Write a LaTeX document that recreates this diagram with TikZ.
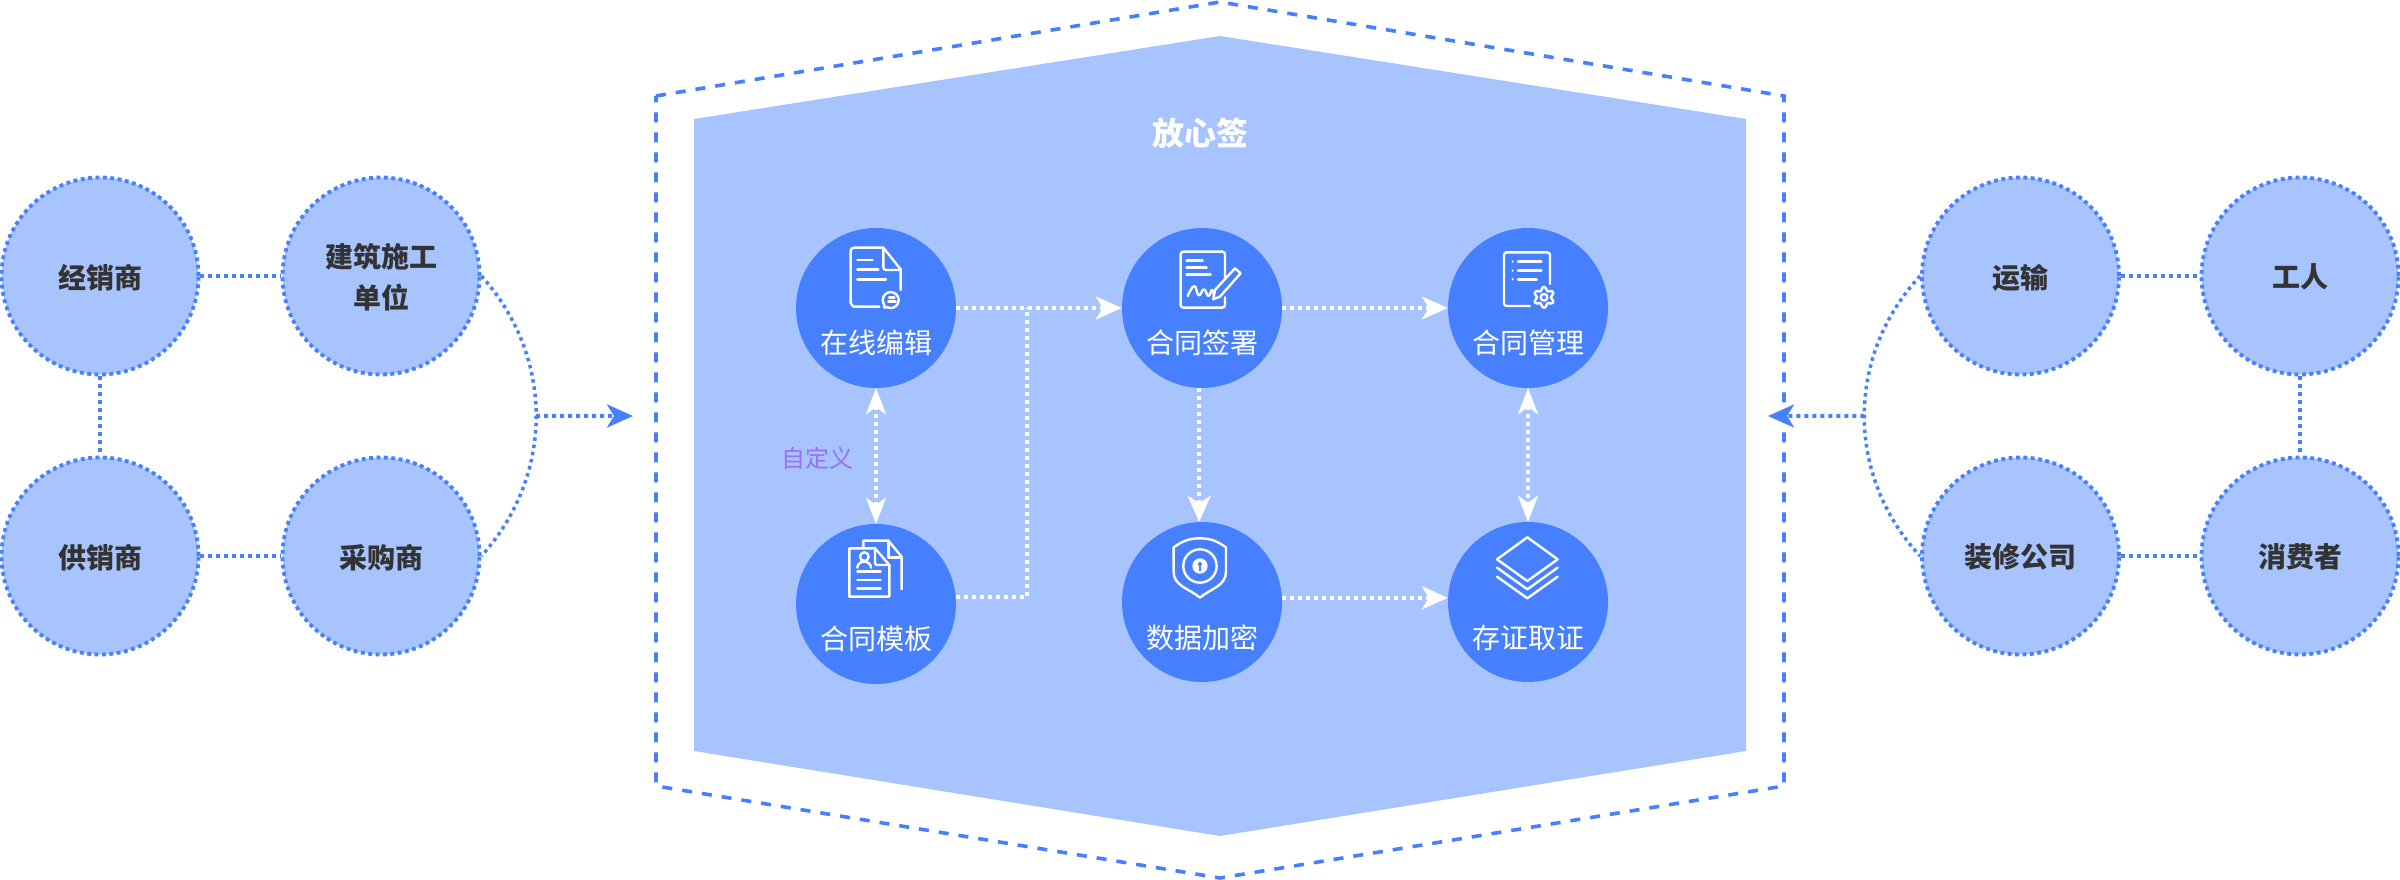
\documentclass[tikz,border=0pt]{standalone}
\usepackage{fontspec}
\setmainfont{Noto Sans CJK SC}
\usetikzlibrary{arrows.meta}
\definecolor{mainblue}{HTML}{4680FF}
\definecolor{lightblue}{HTML}{A8C4FF}
\definecolor{darktext}{HTML}{333333}
\definecolor{purpletext}{HTML}{9A70F5}
\tikzset{
    partner/.style = {circle, fill=lightblue, draw=mainblue, line width=3.8pt, dash pattern=on 3.8pt off 3.6pt, minimum size=197pt, inner sep=0pt, align=center, text depth=0pt, text=darktext, font=\fontsize{28}{41}\selectfont\bfseries},
    feature/.style = {circle, fill=mainblue, minimum size=160pt, inner sep=0pt},
    featuretext/.style = {text=white, inner sep=0pt, text depth=0pt, font=\fontsize{28}{34}\selectfont},
    blueline/.style = {draw=mainblue, line width=4pt, dash pattern=on 4pt off 4pt},
    thinline/.style = {draw=mainblue, line width=3.5pt, dash pattern=on 3.5pt off 3.8pt},
    whiteline/.style = {draw=white, line width=4pt, dash pattern=on 4pt off 4pt},
    bluetip/.style = {-{Stealth[length=26pt, width=23pt, inset=7pt, fill=mainblue]}},
    whitetip/.style = {-{Stealth[length=26pt, width=23pt, inset=7pt, fill=white]}},
    whitetips/.style = {{Stealth[length=26pt, width=20pt, inset=7pt, fill=white]}-{Stealth[length=26pt, width=20pt, inset=7pt, fill=white]}},
    iconline/.style = {draw=white, line width=2.4pt, line cap=round, line join=round}
}
\begin{document}
\begin{tikzpicture}[x=1pt, y=1pt]
    \useasboundingbox (0, 0) rectangle (2400, 880);

    % platform
    \fill[lightblue] (694, 761) -- (1220, 844) -- (1746, 761) -- (1746, 129) -- (1220, 44) -- (694, 129) -- cycle;
    \draw[draw=mainblue, line width=3.6pt, dash pattern=on 10pt off 10pt] (656, 784) -- (1220, 878) -- (1784, 784) -- (1784, 94) -- (1220, 2) -- (656, 94) -- cycle;
    \node (title) at (1200, 747) [text=white, inner sep=0pt, font=\fontsize{32}{38}\selectfont\bfseries] {放心签};

    % left group
    \node (jxs) at (100, 604) [partner] {经销商};
    \node (jzdw) at (381, 604) [partner] {建筑施工\\单位};
    \node (gxs) at (100, 324) [partner] {供销商};
    \node (cgs) at (381, 324) [partner] {采购商};
    \draw[blueline] (jxs) -- (jzdw);
    \draw[blueline] (jxs) -- (gxs);
    \draw[blueline] (gxs) -- (cgs);
    \draw[thinline] (jzdw.east) to [bend left=42] coordinate[midway] (leftmid) (cgs.east);
    \coordinate (lefttip) at (633, 464);
    \draw[blueline, bluetip] (leftmid) -- (lefttip);

    % right group
    \node (ys) at (2020.5, 604) [partner] {运输};
    \node (gr) at (2300, 604) [partner] {工人};
    \node (zxgs) at (2020.5, 324) [partner] {装修公司};
    \node (xfz) at (2300, 324) [partner] {消费者};
    \draw[blueline] (ys) -- (gr);
    \draw[blueline] (gr) -- (xfz);
    \draw[blueline] (zxgs) -- (xfz);
    \draw[thinline] (ys.west) to [bend right=43] coordinate[midway] (rightmid) (zxgs.west);
    \coordinate (righttip) at (1768, 464);
    \draw[blueline, bluetip] (rightmid) -- (righttip);

    % features
    \node (zxbj) at (876, 572) [feature] {};
    \node (htqs) at (1202, 572) [feature] {};
    \node (htgl) at (1528, 572) [feature] {};
    \node (htmb) at (876, 276) [feature] {};
    \node (sjjm) at (1202, 278) [feature] {};
    \node (czqz) at (1528, 278) [feature] {};
    \node (zxbjtext) at ([yshift=-34pt]zxbj.center) [featuretext] {在线编辑};
    \node (htqstext) at ([yshift=-34pt]htqs.center) [featuretext] {合同签署};
    \node (htgltext) at ([yshift=-34pt]htgl.center) [featuretext] {合同管理};
    \node (htmbtext) at ([yshift=-34pt]htmb.center) [featuretext] {合同模板};
    \node (sjjmtext) at ([yshift=-35pt]sjjm.center) [featuretext] {数据加密};
    \node (czqztext) at ([yshift=-35pt]czqz.center) [featuretext] {存证取证};
    \node (zdy) at (817, 422) [text=purpletext, inner sep=0pt, font=\fontsize{24}{28}\selectfont] {自定义};

    % flows
    \coordinate (branch) at (1027, 572);
    \draw[whiteline, whitetip] (zxbj) -- (htqs);
    \draw[whiteline] (htmb.5) -| (branch);
    \draw[whiteline, whitetip] (htqs) -- (htgl);
    \draw[whiteline, whitetip] (htqs.-92) -- (sjjm.92);
    \draw[whiteline, whitetip] (sjjm.3) -- (czqz.177);
    \draw[whiteline, whitetips] (zxbj) -- (htmb);
    \draw[whiteline, whitetips] (htgl) -- (czqz);

    % document with speech bubble
    \begin{scope}[shift={(760, 670)}, x=0.3333pt, y=-0.3333pt, iconline]
        \draw (358, 290) -- (282, 290) to [out=180, in=90] (272, 280) -- (272, 123) to [out=90, in=180] (282, 113) -- (370, 113) -- (422, 178) -- (422, 240);
        \draw (370, 113) -- (370, 172) to [out=-90, in=180] (378, 180) -- (422, 180);
        \draw (292, 150) -- (338, 150);
        \draw (292, 178) -- (355, 178);
        \draw (292, 208) -- (378, 208);
        \draw (374, 288) -- (372, 292) -- (382, 292) arc [start angle=115, end angle=-205, radius=24] -- cycle;
        \draw (387, 262) -- (403, 262);
        \draw (385, 274) -- (407, 274);
    \end{scope}

    % document with pen
    \begin{scope}[shift={(760, 670)}, x=0.3333pt, y=-0.3333pt, iconline]
        \draw (1395, 205) -- (1395, 133) to [out=90, in=0] (1387, 125) -- (1270, 125) to [out=180, in=90] (1262, 133) -- (1262, 285) to [out=-90, in=180] (1270, 293) -- (1387, 293) to [out=0, in=-90] (1395, 285) -- (1395, 262);
        \draw (1280, 152) -- (1328, 152);
        \draw (1280, 172) -- (1340, 172);
        \draw (1280, 193) -- (1352, 193);
        \draw (1425, 175) -- (1442, 190) -- (1380, 260) -- (1360, 268) -- (1365, 240) -- cycle;
        \draw plot [smooth, tension=0.8] coordinates {(1283, 258) (1303, 228) (1316, 256) (1332, 238) (1345, 258) (1356, 240) (1362, 258)};
    \end{scope}

    % document with gear
    \begin{scope}[shift={(1400, 670)}, x=0.3333pt, y=-0.3333pt, iconline]
        \draw (450, 222) -- (450, 135) to [out=90, in=0] (442, 127) -- (320, 127) to [out=180, in=90] (312, 135) -- (312, 280) to [out=-90, in=180] (320, 288) -- (390, 288);
        \foreach \rowy/\rowx in {155/424, 182/424, 208/410} {
            \fill[white] (338, \rowy) circle (3.5);
            \draw (354, \rowy) -- (\rowx, \rowy);
        }
        \draw[shift={(432, 262)}] plot [domain=0:360, samples=73, smooth] (\x+30:{26+5*cos(6*\x)}) -- cycle;
        \draw (432, 262) circle (10);
    \end{scope}

    % two documents with person
    \begin{scope}[shift={(760, 380)}, x=0.3333pt, y=-0.3333pt, iconline]
        \draw (345, 145) -- (268, 145) -- (268, 290) -- (388, 290) -- (388, 195) -- cycle;
        \draw (345, 145) -- (345, 190) -- (350, 195) -- (388, 195);
        \draw (310, 142) -- (310, 122) -- (385, 122) -- (425, 170) -- (425, 268);
        \draw (385, 122) -- (385, 172) -- (425, 172);
        \draw (313, 170) circle (13);
        \draw (292, 203) to [out=90, in=180] (313, 185) to [out=0, in=90] (333, 203);
        \draw (292, 215) -- (362, 215);
        \draw (292, 240) -- (362, 240);
        \draw (292, 266) -- (362, 266);
    \end{scope}

    % shield with lock
    \begin{scope}[shift={(760, 380)}, x=0.3333pt, y=-0.3333pt, iconline]
        \draw (1241, 142) to [out=35, in=180] (1320, 115) to [out=0, in=145] (1398, 142) -- (1398, 215) to [out=-90, in=40] (1320, 293) to [out=140, in=-90] (1241, 215) -- cycle;
        \draw (1320, 198) circle (50);
        \fill[white] (1320, 198) circle (23);
        \fill[mainblue] (1320, 192) circle (6);
        \draw[draw=mainblue, line width=1.6pt, line cap=butt] (1320, 192) -- (1320, 212);
    \end{scope}

    % stacked layers
    \begin{scope}[shift={(1400, 380)}, x=0.3333pt, y=-0.3333pt, iconline]
        \draw (382, 112) -- (473, 178) -- (382, 243) -- (291, 178) -- cycle;
        \draw (291, 203) -- (382, 268) -- (473, 203);
        \draw (291, 230) -- (382, 295) -- (473, 230);
    \end{scope}
\end{tikzpicture}
\end{document}
